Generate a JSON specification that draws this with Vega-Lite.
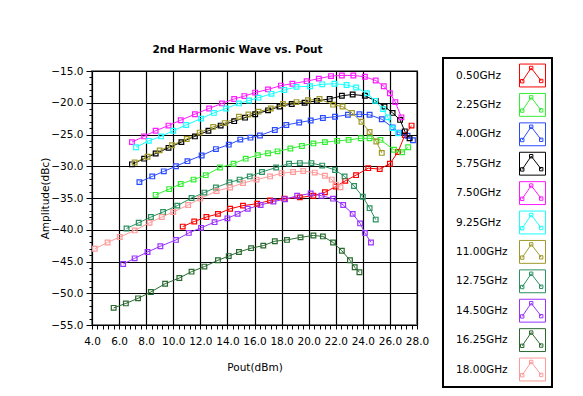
{
  "$schema": "https://vega.github.io/schema/vega-lite/v6.json",
  "width": 325,
  "height": 254,
  "autosize": {"type": "none"},
  "padding": {"left": 92, "top": 71, "right": 166, "bottom": 71},
  "background": "white",
  "title": {"text": "2nd Harmonic Wave vs. Pout", "font": "DejaVu Sans", "fontSize": 10.5, "fontWeight": "bold", "color": "black", "anchor": "middle", "offset": 2, "dx": -17},
  "config": {
    "view": {"stroke": "#808080", "strokeWidth": 2},
    "axis": {"labelFont": "DejaVu Sans", "labelFontSize": 10.5, "labelColor": "black", "titleFont": "DejaVu Sans", "titleFontSize": 10.5, "titleFontWeight": "normal", "titleColor": "black", "tickColor": "black", "tickSize": 4, "domain": false, "gridColor": "black", "gridWidth": 1.2, "labelOverlap": false, "labelFlush": false, "labelBound": false},
    "legend": {"strokeColor": "black", "strokeWidth": 2, "padding": 4, "labelFont": "DejaVu Sans", "labelFontSize": 10.5, "labelColor": "black", "symbolFillColor": "transparent"}
  },
  "data": {"values": [
    {"s":"0.50GHz","x":10.7,"y":-39.5},{"s":"0.50GHz","x":11.55,"y":-38.7},{"s":"0.50GHz","x":12.45,"y":-38.0},{"s":"0.50GHz","x":13.3,"y":-37.5},{"s":"0.50GHz","x":14.2,"y":-36.7},{"s":"0.50GHz","x":15.15,"y":-36.2},{"s":"0.50GHz","x":16.2,"y":-35.9},{"s":"0.50GHz","x":17.15,"y":-35.4},{"s":"0.50GHz","x":18.2,"y":-35.1},{"s":"0.50GHz","x":19.35,"y":-34.9},{"s":"0.50GHz","x":20.35,"y":-34.65},{"s":"0.50GHz","x":21.2,"y":-34.1},{"s":"0.50GHz","x":22.0,"y":-33.2},{"s":"0.50GHz","x":22.7,"y":-32.3},{"s":"0.50GHz","x":23.5,"y":-31.4},{"s":"0.50GHz","x":24.4,"y":-30.3},{"s":"0.50GHz","x":25.25,"y":-30.45},{"s":"0.50GHz","x":26.0,"y":-29.6},{"s":"0.50GHz","x":26.6,"y":-27.75},{"s":"0.50GHz","x":27.1,"y":-25.1},{"s":"0.50GHz","x":27.6,"y":-23.6},
    {"s":"2.25GHz","x":8.7,"y":-34.5},{"s":"2.25GHz","x":9.7,"y":-33.6},{"s":"2.25GHz","x":10.55,"y":-32.8},{"s":"2.25GHz","x":11.5,"y":-32.1},{"s":"2.25GHz","x":12.4,"y":-31.4},{"s":"2.25GHz","x":13.45,"y":-30.2},{"s":"2.25GHz","x":14.45,"y":-29.6},{"s":"2.25GHz","x":15.35,"y":-28.8},{"s":"2.25GHz","x":16.25,"y":-28.25},{"s":"2.25GHz","x":17.0,"y":-27.95},{"s":"2.25GHz","x":17.7,"y":-27.65},{"s":"2.25GHz","x":18.65,"y":-27.2},{"s":"2.25GHz","x":19.5,"y":-26.8},{"s":"2.25GHz","x":20.35,"y":-26.4},{"s":"2.25GHz","x":21.2,"y":-26.2},{"s":"2.25GHz","x":22.1,"y":-26.0},{"s":"2.25GHz","x":22.95,"y":-25.85},{"s":"2.25GHz","x":23.85,"y":-25.6},{"s":"2.25GHz","x":24.5,"y":-25.6},{"s":"2.25GHz","x":25.3,"y":-25.85},{"s":"2.25GHz","x":26.3,"y":-27.4},{"s":"2.25GHz","x":26.9,"y":-27.8},{"s":"2.25GHz","x":27.35,"y":-27.0},
    {"s":"4.00GHz","x":7.5,"y":-32.5},{"s":"4.00GHz","x":8.45,"y":-31.6},{"s":"4.00GHz","x":9.3,"y":-30.8},{"s":"4.00GHz","x":10.2,"y":-30.0},{"s":"4.00GHz","x":11.05,"y":-29.2},{"s":"4.00GHz","x":12.1,"y":-28.3},{"s":"4.00GHz","x":13.15,"y":-27.3},{"s":"4.00GHz","x":14.1,"y":-26.6},{"s":"4.00GHz","x":14.95,"y":-25.8},{"s":"4.00GHz","x":15.7,"y":-25.5},{"s":"4.00GHz","x":16.4,"y":-25.15},{"s":"4.00GHz","x":17.5,"y":-24.3},{"s":"4.00GHz","x":18.35,"y":-23.5},{"s":"4.00GHz","x":19.3,"y":-23.1},{"s":"4.00GHz","x":20.15,"y":-22.8},{"s":"4.00GHz","x":21.05,"y":-22.4},{"s":"4.00GHz","x":21.95,"y":-22.2},{"s":"4.00GHz","x":22.9,"y":-21.9},{"s":"4.00GHz","x":23.75,"y":-21.8},{"s":"4.00GHz","x":24.5,"y":-21.9},{"s":"4.00GHz","x":25.4,"y":-22.6},{"s":"4.00GHz","x":26.2,"y":-23.9},{"s":"4.00GHz","x":26.7,"y":-24.7},{"s":"4.00GHz","x":27.3,"y":-25.2},{"s":"4.00GHz","x":27.7,"y":-25.9},
    {"s":"5.75GHz","x":6.95,"y":-29.7},{"s":"5.75GHz","x":7.85,"y":-28.8},{"s":"5.75GHz","x":8.7,"y":-28.0},{"s":"5.75GHz","x":9.65,"y":-27.1},{"s":"5.75GHz","x":10.6,"y":-26.2},{"s":"5.75GHz","x":11.6,"y":-25.3},{"s":"5.75GHz","x":12.6,"y":-24.4},{"s":"5.75GHz","x":13.5,"y":-23.6},{"s":"5.75GHz","x":14.5,"y":-22.9},{"s":"5.75GHz","x":15.3,"y":-22.35},{"s":"5.75GHz","x":16.05,"y":-21.8},{"s":"5.75GHz","x":17.0,"y":-21.2},{"s":"5.75GHz","x":17.85,"y":-20.6},{"s":"5.75GHz","x":18.75,"y":-20.2},{"s":"5.75GHz","x":19.7,"y":-20.0},{"s":"5.75GHz","x":20.6,"y":-19.7},{"s":"5.75GHz","x":21.55,"y":-19.4},{"s":"5.75GHz","x":22.45,"y":-18.9},{"s":"5.75GHz","x":23.25,"y":-18.7},{"s":"5.75GHz","x":24.15,"y":-18.9},{"s":"5.75GHz","x":24.95,"y":-19.7},{"s":"5.75GHz","x":25.6,"y":-20.6},{"s":"5.75GHz","x":26.2,"y":-21.6},{"s":"5.75GHz","x":26.75,"y":-22.7},{"s":"5.75GHz","x":27.1,"y":-24.5},{"s":"5.75GHz","x":27.45,"y":-25.6},
    {"s":"7.50GHz","x":6.95,"y":-26.2},{"s":"7.50GHz","x":7.85,"y":-25.3},{"s":"7.50GHz","x":8.7,"y":-24.4},{"s":"7.50GHz","x":9.65,"y":-23.6},{"s":"7.50GHz","x":10.55,"y":-22.75},{"s":"7.50GHz","x":11.6,"y":-21.8},{"s":"7.50GHz","x":12.65,"y":-20.9},{"s":"7.50GHz","x":13.6,"y":-20.1},{"s":"7.50GHz","x":14.5,"y":-19.4},{"s":"7.50GHz","x":15.25,"y":-18.95},{"s":"7.50GHz","x":16.05,"y":-18.4},{"s":"7.50GHz","x":17.0,"y":-17.9},{"s":"7.50GHz","x":17.95,"y":-17.3},{"s":"7.50GHz","x":18.8,"y":-17.0},{"s":"7.50GHz","x":19.85,"y":-16.6},{"s":"7.50GHz","x":20.75,"y":-16.2},{"s":"7.50GHz","x":21.65,"y":-15.8},{"s":"7.50GHz","x":22.45,"y":-15.7},{"s":"7.50GHz","x":23.3,"y":-15.7},{"s":"7.50GHz","x":24.15,"y":-15.9},{"s":"7.50GHz","x":24.95,"y":-16.5},{"s":"7.50GHz","x":25.55,"y":-17.4},{"s":"7.50GHz","x":26.0,"y":-18.5},{"s":"7.50GHz","x":26.4,"y":-19.9},{"s":"7.50GHz","x":26.85,"y":-22.3},
    {"s":"9.25GHz","x":7.25,"y":-27.0},{"s":"9.25GHz","x":8.2,"y":-26.0},{"s":"9.25GHz","x":9.1,"y":-25.3},{"s":"9.25GHz","x":10.0,"y":-24.4},{"s":"9.25GHz","x":10.95,"y":-23.5},{"s":"9.25GHz","x":12.05,"y":-22.5},{"s":"9.25GHz","x":13.0,"y":-21.6},{"s":"9.25GHz","x":13.9,"y":-20.9},{"s":"9.25GHz","x":14.85,"y":-20.1},{"s":"9.25GHz","x":15.6,"y":-19.65},{"s":"9.25GHz","x":16.3,"y":-19.2},{"s":"9.25GHz","x":17.25,"y":-18.6},{"s":"9.25GHz","x":18.2,"y":-18.0},{"s":"9.25GHz","x":19.1,"y":-17.5},{"s":"9.25GHz","x":20.1,"y":-17.4},{"s":"9.25GHz","x":21.0,"y":-17.1},{"s":"9.25GHz","x":21.9,"y":-17.0},{"s":"9.25GHz","x":22.8,"y":-17.2},{"s":"9.25GHz","x":23.5,"y":-17.6},{"s":"9.25GHz","x":24.3,"y":-18.5},{"s":"9.25GHz","x":24.9,"y":-19.7},{"s":"9.25GHz","x":25.5,"y":-21.0},{"s":"9.25GHz","x":25.85,"y":-22.3},{"s":"9.25GHz","x":26.2,"y":-24.0},{"s":"9.25GHz","x":26.6,"y":-24.8},
    {"s":"11.00GHz","x":7.15,"y":-29.4},{"s":"11.00GHz","x":8.1,"y":-28.5},{"s":"11.00GHz","x":9.0,"y":-27.5},{"s":"11.00GHz","x":9.9,"y":-26.7},{"s":"11.00GHz","x":11.0,"y":-25.7},{"s":"11.00GHz","x":11.95,"y":-24.7},{"s":"11.00GHz","x":12.95,"y":-23.8},{"s":"11.00GHz","x":13.8,"y":-23.2},{"s":"11.00GHz","x":14.85,"y":-22.2},{"s":"11.00GHz","x":15.55,"y":-21.85},{"s":"11.00GHz","x":16.3,"y":-21.4},{"s":"11.00GHz","x":17.2,"y":-20.9},{"s":"11.00GHz","x":18.1,"y":-20.2},{"s":"11.00GHz","x":19.1,"y":-19.9},{"s":"11.00GHz","x":19.95,"y":-19.6},{"s":"11.00GHz","x":20.8,"y":-19.4},{"s":"11.00GHz","x":21.8,"y":-20.3},{"s":"11.00GHz","x":22.5,"y":-20.6},{"s":"11.00GHz","x":23.2,"y":-21.6},{"s":"11.00GHz","x":23.9,"y":-23.0},{"s":"11.00GHz","x":24.5,"y":-24.6},{"s":"11.00GHz","x":25.0,"y":-26.1},{"s":"11.00GHz","x":25.4,"y":-27.9},
    {"s":"12.75GHz","x":6.55,"y":-39.8},{"s":"12.75GHz","x":7.45,"y":-38.9},{"s":"12.75GHz","x":8.35,"y":-38.0},{"s":"12.75GHz","x":9.25,"y":-37.2},{"s":"12.75GHz","x":10.3,"y":-36.2},{"s":"12.75GHz","x":11.35,"y":-35.0},{"s":"12.75GHz","x":12.3,"y":-34.15},{"s":"12.75GHz","x":13.15,"y":-33.35},{"s":"12.75GHz","x":14.15,"y":-32.55},{"s":"12.75GHz","x":14.9,"y":-32.1},{"s":"12.75GHz","x":15.65,"y":-31.6},{"s":"12.75GHz","x":16.55,"y":-30.9},{"s":"12.75GHz","x":17.6,"y":-30.2},{"s":"12.75GHz","x":18.55,"y":-29.6},{"s":"12.75GHz","x":19.35,"y":-29.5},{"s":"12.75GHz","x":20.2,"y":-29.5},{"s":"12.75GHz","x":21.0,"y":-29.9},{"s":"12.75GHz","x":21.95,"y":-30.6},{"s":"12.75GHz","x":22.65,"y":-31.6},{"s":"12.75GHz","x":23.35,"y":-33.1},{"s":"12.75GHz","x":24.0,"y":-34.8},{"s":"12.75GHz","x":24.5,"y":-36.6},{"s":"12.75GHz","x":24.95,"y":-38.4},
    {"s":"14.50GHz","x":6.3,"y":-45.4},{"s":"14.50GHz","x":7.15,"y":-44.5},{"s":"14.50GHz","x":8.1,"y":-43.5},{"s":"14.50GHz","x":9.05,"y":-42.6},{"s":"14.50GHz","x":10.2,"y":-41.6},{"s":"14.50GHz","x":11.15,"y":-40.5},{"s":"14.50GHz","x":12.05,"y":-39.7},{"s":"14.50GHz","x":13.05,"y":-38.8},{"s":"14.50GHz","x":14.0,"y":-38.2},{"s":"14.50GHz","x":14.75,"y":-37.5},{"s":"14.50GHz","x":15.5,"y":-36.7},{"s":"14.50GHz","x":16.45,"y":-36.1},{"s":"14.50GHz","x":17.4,"y":-35.55},{"s":"14.50GHz","x":18.25,"y":-35.2},{"s":"14.50GHz","x":19.15,"y":-34.65},{"s":"14.50GHz","x":20.15,"y":-34.3},{"s":"14.50GHz","x":20.95,"y":-34.65},{"s":"14.50GHz","x":21.8,"y":-35.1},{"s":"14.50GHz","x":22.55,"y":-36.1},{"s":"14.50GHz","x":23.25,"y":-37.5},{"s":"14.50GHz","x":23.8,"y":-39.0},{"s":"14.50GHz","x":24.15,"y":-40.5},{"s":"14.50GHz","x":24.6,"y":-42.0},
    {"s":"16.25GHz","x":5.6,"y":-52.3},{"s":"16.25GHz","x":6.5,"y":-51.6},{"s":"16.25GHz","x":7.4,"y":-50.8},{"s":"16.25GHz","x":8.35,"y":-49.8},{"s":"16.25GHz","x":9.4,"y":-48.5},{"s":"16.25GHz","x":10.45,"y":-47.6},{"s":"16.25GHz","x":11.35,"y":-46.6},{"s":"16.25GHz","x":12.3,"y":-45.8},{"s":"16.25GHz","x":13.3,"y":-44.8},{"s":"16.25GHz","x":14.1,"y":-44.15},{"s":"16.25GHz","x":14.85,"y":-43.5},{"s":"16.25GHz","x":15.75,"y":-42.9},{"s":"16.25GHz","x":16.65,"y":-42.5},{"s":"16.25GHz","x":17.5,"y":-41.8},{"s":"16.25GHz","x":18.4,"y":-41.6},{"s":"16.25GHz","x":19.4,"y":-41.2},{"s":"16.25GHz","x":20.35,"y":-40.9},{"s":"16.25GHz","x":21.05,"y":-41.05},{"s":"16.25GHz","x":21.8,"y":-42.0},{"s":"16.25GHz","x":22.45,"y":-43.3},{"s":"16.25GHz","x":23.05,"y":-44.8},{"s":"16.25GHz","x":23.4,"y":-45.9},{"s":"16.25GHz","x":23.75,"y":-46.7},
    {"s":"18.00GHz","x":4.2,"y":-43.0},{"s":"18.00GHz","x":5.15,"y":-42.0},{"s":"18.00GHz","x":6.05,"y":-41.15},{"s":"18.00GHz","x":7.15,"y":-40.1},{"s":"18.00GHz","x":8.25,"y":-38.9},{"s":"18.00GHz","x":9.15,"y":-38.0},{"s":"18.00GHz","x":10.0,"y":-37.2},{"s":"18.00GHz","x":11.1,"y":-36.1},{"s":"18.00GHz","x":12.0,"y":-35.1},{"s":"18.00GHz","x":13.2,"y":-33.9},{"s":"18.00GHz","x":14.2,"y":-33.35},{"s":"18.00GHz","x":15.15,"y":-32.65},{"s":"18.00GHz","x":16.15,"y":-32.1},{"s":"18.00GHz","x":17.15,"y":-31.6},{"s":"18.00GHz","x":18.0,"y":-31.1},{"s":"18.00GHz","x":18.85,"y":-30.9},{"s":"18.00GHz","x":19.6,"y":-30.75},{"s":"18.00GHz","x":20.45,"y":-31.0},{"s":"18.00GHz","x":21.2,"y":-31.5},{"s":"18.00GHz","x":21.7,"y":-32.1},{"s":"18.00GHz","x":22.0,"y":-32.9},{"s":"18.00GHz","x":22.35,"y":-33.3}
  ]},
  "mark": {"type": "line", "strokeWidth": 1, "clip": true, "point": {"shape": "square", "filled": false, "size": 22, "strokeWidth": 1.2}},
  "encoding": {
    "x": {"field": "x", "type": "quantitative", "scale": {"domain": [4, 28], "nice": false, "zero": false},
      "axis": {"title": "Pout(dBm)", "titlePadding": 16, "labelPadding": 7,
        "values": [4,4.4,4.8,5.2,5.6,6,6.4,6.8,7.2,7.6,8,8.4,8.8,9.2,9.6,10,10.4,10.8,11.2,11.6,12,12.4,12.8,13.2,13.6,14,14.4,14.8,15.2,15.6,16,16.4,16.8,17.2,17.6,18,18.4,18.8,19.2,19.6,20,20.4,20.8,21.2,21.6,22,22.4,22.8,23.2,23.6,24,24.4,24.8,25.2,25.6,26,26.4,26.8,27.2,27.6,28],
        "labelExpr": "abs(datum.value - 2*round(datum.value/2)) < 0.01 ? format(datum.value, '.1f') : ''",
        "gridOpacity": {"condition": {"test": "abs(datum.value - 2*round(datum.value/2)) < 0.01", "value": 1}, "value": 0}}},
    "y": {"field": "y", "type": "quantitative", "scale": {"domain": [-55, -15], "nice": false, "zero": false},
      "axis": {"title": "Amplitude(dBc)", "titlePadding": 0, "labelPadding": 3,
        "values": [-55,-54,-53,-52,-51,-50,-49,-48,-47,-46,-45,-44,-43,-42,-41,-40,-39,-38,-37,-36,-35,-34,-33,-32,-31,-30,-29,-28,-27,-26,-25,-24,-23,-22,-21,-20,-19,-18,-17,-16,-15],
        "labelExpr": "abs(datum.value - 5*round(datum.value/5)) < 0.01 ? format(datum.value, '.1f') : ''",
        "tickSize": {"condition": {"test": "abs(datum.value - 5*round(datum.value/5)) < 0.01", "value": 6}, "value": 3},
        "gridOpacity": {"condition": {"test": "abs(datum.value - 5*round(datum.value/5)) < 0.01", "value": 1}, "value": 0}}},
    "color": {"field": "s", "type": "nominal",
      "scale": {"domain": ["0.50GHz","2.25GHz","4.00GHz","5.75GHz","7.50GHz","9.25GHz","11.00GHz","12.75GHz","14.50GHz","16.25GHz","18.00GHz"],
        "range": ["#ff0000","#33ee33","#2a4bff","#000000","#ff1aff","#1affff","#a09a2a","#2a9160","#9933ff","#2a6a30","#ff9a9a"]},
      "legend": {"title": null, "orient": "none", "legendX": 351, "legendY": -13,
        "symbolType": "M-1,-0.88H1V0.88H-1Z M-0.79,0.44L-0.1,-0.58L0.67,0.42 M-0.92,0.31h0.26v0.26h-0.26Z M-0.23,-0.71h0.26v0.26h-0.26Z M0.54,0.29h0.26v0.26h-0.26Z",
        "symbolSize": 676, "symbolStrokeWidth": 1, "symbolOffset": 72, "labelOffset": -90, "rowPadding": 2.4}}
  }
}
